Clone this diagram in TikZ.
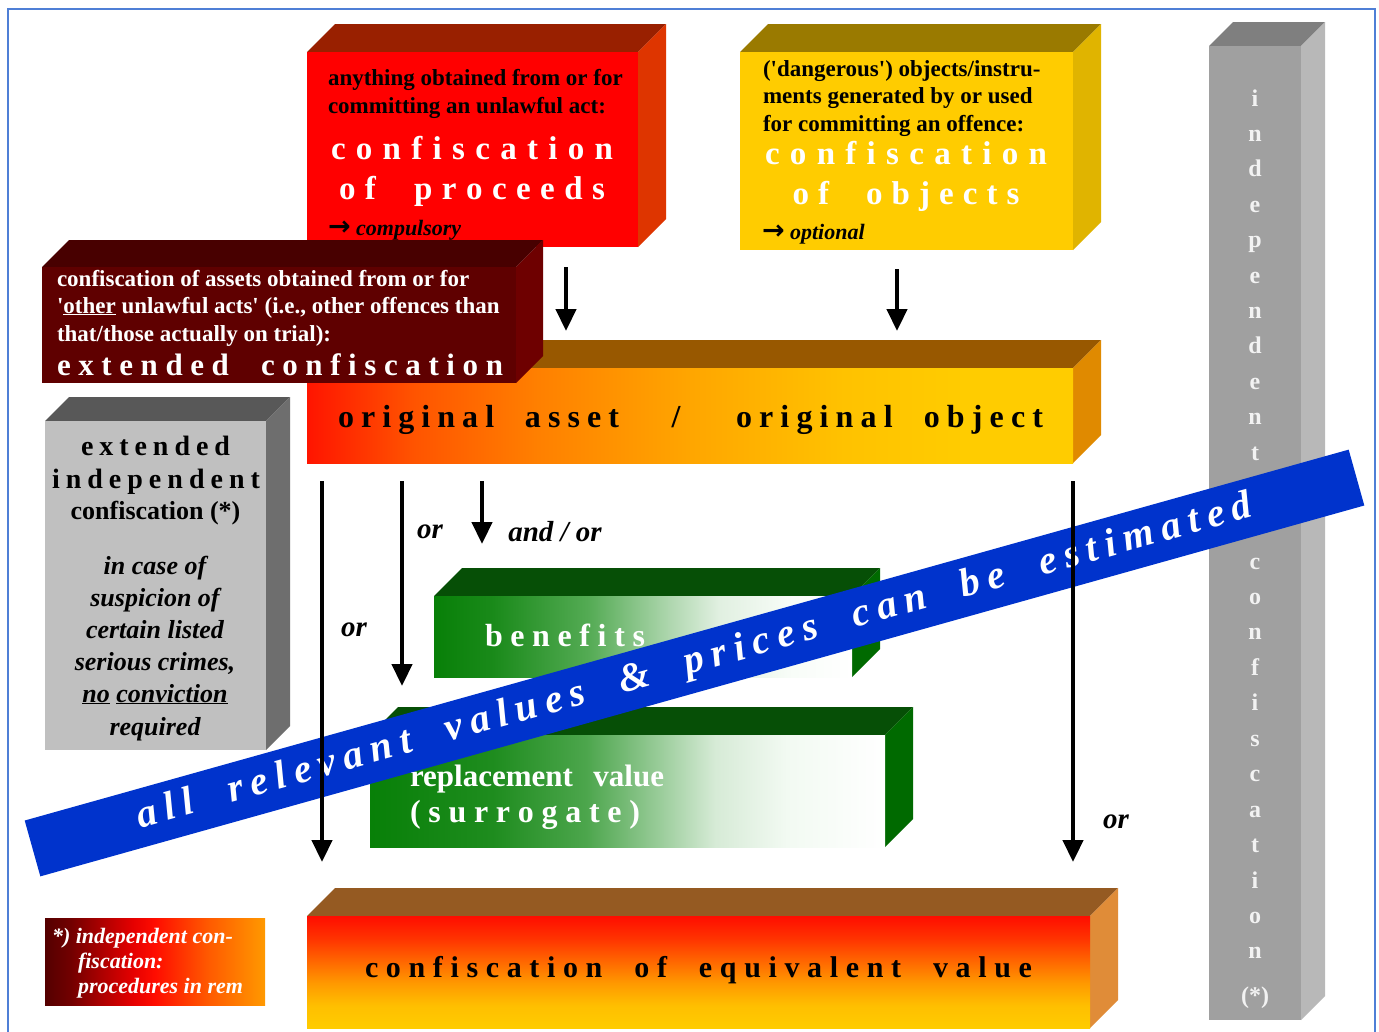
\documentclass[tikz,border=0pt]{standalone}
\usepackage{fontspec}
\setmainfont{Liberation Serif}
\newfontfamily\arrowfont{DejaVu Sans}
\usetikzlibrary{arrows.meta}

\ExplSyntaxOn
\bool_new:N \l__sp_first_bool
\NewDocumentCommand\spreadtext{mm}{
  \hbox_to_wd:nn {#1} {
    \bool_set_true:N \l__sp_first_bool
    \str_map_inline:nn {#2} {
      \bool_if:NF \l__sp_first_bool { \hfill }
      \bool_set_false:N \l__sp_first_bool
      \str_if_eq:nnTF {##1} {~} { \skip_horizontal:n { 0.3em plus 1fill } } { ##1 }
    }
  }
}
\ExplSyntaxOff

\definecolor{borderblue}{HTML}{4F7FD6}
\definecolor{procFront}{HTML}{FF0000}
\definecolor{procTop}{HTML}{992000}
\definecolor{procSide}{HTML}{DE3500}
\definecolor{objFront}{HTML}{FFCC00}
\definecolor{objTop}{HTML}{9A7A00}
\definecolor{objSide}{HTML}{E0B400}
\definecolor{extFront}{HTML}{5F0000}
\definecolor{extTop}{HTML}{480000}
\definecolor{extSide}{HTML}{6E0000}
\definecolor{assetTop}{HTML}{985800}
\definecolor{assetSide}{HTML}{E08A00}
\definecolor{greyFront}{HTML}{C0C0C0}
\definecolor{greyTop}{HTML}{585858}
\definecolor{greySide}{HTML}{6E6E6E}
\definecolor{greenTop}{HTML}{064F06}
\definecolor{greenSide}{HTML}{006A00}
\definecolor{eqTop}{HTML}{955A22}
\definecolor{eqSide}{HTML}{E08C38}
\definecolor{barFront}{HTML}{A0A0A0}
\definecolor{barTop}{HTML}{7F7F7F}
\definecolor{barSide}{HTML}{B8B8B8}
\definecolor{barText}{HTML}{F2F2F2}
\definecolor{bannerBlue}{HTML}{0033CC}

\pgfdeclarehorizontalshading{assetsh}{100bp}{rgb(0bp)=(1,0.08,0); rgb(25bp)=(1,0.08,0); rgb(32bp)=(1,0.33,0); rgb(40bp)=(1,0.5,0); rgb(50bp)=(1,0.65,0); rgb(60bp)=(1,0.76,0); rgb(68bp)=(1,0.8,0); rgb(75bp)=(1,0.8,0); rgb(100bp)=(1,0.8,0)}
\pgfdeclarehorizontalshading{benefsh}{100bp}{rgb(0bp)=(0.03,0.5,0.03); rgb(25bp)=(0.03,0.5,0.03); rgb(32bp)=(0.1,0.54,0.1); rgb(43.5bp)=(0.33,0.67,0.33); rgb(52.5bp)=(0.66,0.83,0.66); rgb(59bp)=(0.88,0.94,0.88); rgb(67.5bp)=(0.97,0.99,0.97); rgb(75bp)=(1,1,1); rgb(100bp)=(1,1,1)}
\pgfdeclarehorizontalshading{replsh}{100bp}{rgb(0bp)=(0.03,0.5,0.03); rgb(25bp)=(0.03,0.5,0.03); rgb(37bp)=(0.12,0.55,0.12); rgb(46bp)=(0.3,0.65,0.3); rgb(53.5bp)=(0.62,0.81,0.62); rgb(58.5bp)=(0.84,0.92,0.84); rgb(65.5bp)=(0.95,0.98,0.95); rgb(75bp)=(1,1,1); rgb(100bp)=(1,1,1)}
\pgfdeclareverticalshading{eqsh}{100bp}{rgb(0bp)=(1,0.8,0); rgb(25bp)=(1,0.8,0); rgb(35bp)=(1,0.75,0); rgb(45bp)=(1,0.6,0); rgb(55bp)=(1,0.4,0); rgb(65bp)=(1,0.2,0); rgb(75bp)=(1,0.05,0); rgb(100bp)=(1,0.05,0)}
\pgfdeclarehorizontalshading{footsh}{100bp}{rgb(0bp)=(0.33,0,0); rgb(25bp)=(0.33,0,0); rgb(31bp)=(0.45,0,0); rgb(37bp)=(0.65,0,0); rgb(45bp)=(0.9,0,0); rgb(50bp)=(1,0.05,0); rgb(62bp)=(1,0.35,0); rgb(75bp)=(1,0.6,0); rgb(100bp)=(1,0.6,0)}

\newcommand\slabfaces[7]{%
  \fill[#6] (#1,#2) -- (#1+#5,#2-#5) -- (#3+#5,#2-#5) -- (#3,#2) -- cycle;
  \fill[#7] (#3,#2) -- (#3+#5,#2-#5) -- (#3+#5,#4-#5) -- (#3,#4) -- cycle;}

\newcommand\bigarrow{{\arrowfont\upshape\bfseries\fontsize{27}{27}\selectfont →}}

\begin{document}
\begin{tikzpicture}[x=1pt,y=-1pt,
  face/.style={inner sep=0pt, outer sep=0pt, draw=none, anchor=north west},
  tx/.style={inner sep=0pt, outer sep=0pt},
  body/.style={tx, anchor=base west, font=\fontsize{23}{28}\selectfont\bfseries},
  bodyw/.style={body, text=white},
  head/.style={tx, anchor=base, text=white, font=\fontsize{33}{38}\selectfont\bfseries},
  headb/.style={tx, anchor=base west, font=\fontsize{32}{38}\selectfont\bfseries},
  note/.style={tx, anchor=base west, font=\fontsize{22}{26}\selectfont\bfseries\itshape},
  greyb/.style={tx, anchor=base, font=\fontsize{26}{32}\selectfont\bfseries},
  greyit/.style={tx, anchor=base, font=\fontsize{26}{32}\selectfont\bfseries\itshape},
  barl/.style={tx, anchor=base, text=barText, font=\fontsize{24}{28}\selectfont\bfseries},
  lbl/.style={tx, font=\fontsize{29}{34}\selectfont\bfseries\itshape},
  arr/.style={line width=4.5pt, -{Triangle[width=20pt,length=22pt]}}
]
\useasboundingbox (0,0) rectangle (1379,1031);
\fill[white] (0,0) rectangle (1379,1031);
\draw[borderblue, line width=2.5pt] (8,9) rectangle (1375,1050);

% right vertical bar
\slabfaces{1209}{46}{1301}{1020}{24}{barTop}{barSide}
\node[face, fill=barFront, minimum width=92pt, minimum height=974pt] (bar) at (1209,46) {};
\foreach \ch [count=\k from 0] in {i,n,d,e,p,e,n,d,e,n,t}
  \node[barl] (bi\k) at (1255,{106+35.4*\k}) {\ch};
\foreach \ch [count=\k from 0] in {c,o,n,f,i,s,c,a,t,i,o,n}
  \node[barl] (bc\k) at (1255,{569+35.45*\k}) {\ch};
\node[barl] (bstar) at (1255,1003) {(*)};

% original asset / object
\slabfaces{307}{368}{1073}{463}{28}{assetTop}{assetSide}
\node[face, shade, shading=assetsh, minimum width=766pt, minimum height=95pt] (asset) at (307,368) {};
\node[headb] (oa1) at (338,427) {\spreadtext{281pt}{original asset}};
\node[headb, anchor=base] (oa2) at (676,427) {/};
\node[headb] (oa3) at (736,427) {\spreadtext{307pt}{original object}};

% confiscation of proceeds
\slabfaces{307}{52}{638}{247}{28}{procTop}{procSide}
\node[face, fill=procFront, minimum width=331pt, minimum height=195pt] (proceeds) at (307,52) {};
\node[body] (rp1) at (328,85) {anything obtained from or for};
\node[body] (rp2) at (328,113) {committing an unlawful act:};
\node[head] (rp3) at (472,159) {\spreadtext{282pt}{confiscation}};
\node[head] (rp4) at (472,199) {\spreadtext{266pt}{of proceeds}};
\node[note] (rp5) at (328,235) {\bigarrow\ compulsory};

% confiscation of objects
\slabfaces{740}{52}{1073}{250}{28}{objTop}{objSide}
\node[face, fill=objFront, minimum width=333pt, minimum height=198pt] (objects) at (740,52) {};
\node[body] (yo1) at (763,76) {(\textquotesingle dangerous\textquotesingle) objects/instru-};
\node[body] (yo2) at (763,103) {ments generated by or used};
\node[body] (yo3) at (763,131) {for committing an offence:};
\node[head] (yo4) at (906,164) {\spreadtext{282pt}{confiscation}};
\node[head] (yo5) at (906,204) {\spreadtext{227pt}{of objects}};
\node[note] (yo6) at (762,239) {\bigarrow\ optional};

% extended confiscation
\slabfaces{42}{267}{516}{383}{27}{extTop}{extSide}
\node[face, fill=extFront, minimum width=474pt, minimum height=116pt] (extended) at (42,267) {};
\node[bodyw] (er1) at (57,286) {confiscation of assets obtained from or for};
\node[bodyw] (er2) at (57,313) {\textquotesingle\underline{other} unlawful acts\textquotesingle{} (i.e., other offences than};
\node[bodyw] (er3) at (57,341) {that/those actually on trial):};
\node[headb, text=white, font=\fontsize{31}{36}\selectfont\bfseries] (er4) at (57,375) {\spreadtext{446pt}{extended confiscation}};

% extended independent confiscation (grey)
\slabfaces{45}{421}{266}{750}{24}{greyTop}{greySide}
\node[face, fill=greyFront, minimum width=221pt, minimum height=329pt] (indep) at (45,421) {};
\node[greyb, font=\fontsize{28}{32}\selectfont\bfseries] (g1) at (155.5,455) {\spreadtext{149pt}{extended}};
\node[greyb, font=\fontsize{28}{32}\selectfont\bfseries] (g2) at (156,488) {\spreadtext{208pt}{independent}};
\node[greyb] (g3) at (155.5,519) {confiscation (*)};
\node[greyit] (g4) at (155,574) {in case of};
\node[greyit] (g5) at (155,606) {suspicion of};
\node[greyit] (g6) at (155,638) {certain listed};
\node[greyit] (g7) at (155,670) {serious crimes,};
\node[greyit] (g8) at (155,702) {\underline{no} \underline{conviction}};
\node[greyit] (g9) at (155,735) {required};

% benefits
\slabfaces{434}{596}{852}{677}{28}{greenTop}{greenSide}
\node[face, shade, shading=benefsh, minimum width=418pt, minimum height=81pt] (benefits) at (434,596) {};
\node[headb, text=white] (bn) at (485,646) {\spreadtext{160pt}{benefits}};

% replacement value
\slabfaces{370}{735}{885}{847}{28}{greenTop}{greenSide}
\node[face, shade, shading=replsh, minimum width=515pt, minimum height=112pt] (replacement) at (370,735) {};
\node[headb, text=white, font=\fontsize{31}{36}\selectfont\bfseries] (rv1) at (410,786) {\hbox to 254pt{replacement\hfill value}};
\node[headb, text=white] (rv2) at (410,822) {\spreadtext{230pt}{(surrogate)}};

% equivalent value
\slabfaces{307}{916}{1090}{1028}{28}{eqTop}{eqSide}
\node[face, shade, shading=eqsh, minimum width=783pt, minimum height=112pt] (equivalent) at (307,916) {};
\node[headb, font=\fontsize{30}{36}\selectfont\bfseries] (eq) at (365,977) {\spreadtext{667pt}{confiscation of equivalent value}};

% footnote
\node[face, shade, shading=footsh, minimum width=220pt, minimum height=87pt] (footnote) at (45,918) {};
\node[note, text=white] (f1) at (52,943) {*) independent con-};
\node[note, text=white] (f2) at (78,968) {fiscation:};
\node[note, text=white] (f3) at (78,993) {procedures in rem};

% banner
\node[fill=bannerBlue, rotate=15.65, minimum width=1375pt, minimum height=58pt, inner sep=0pt, text=white,
      font=\fontsize{40}{48}\selectfont\bfseries\itshape] (banner) at (694.5,663)
      {\spreadtext{1157pt}{all relevant values & prices can be estimated}};

% arrows
\coordinate (a1s) at (566,267); \coordinate (a1e) at (566,331);
\coordinate (a2s) at (897,269); \coordinate (a2e) at (897,331);
\coordinate (a3s) at (322,481); \coordinate (a3e) at (322,862);
\coordinate (a4s) at (402,481); \coordinate (a4e) at (402,686);
\coordinate (a5s) at (482,481); \coordinate (a5e) at (482,544);
\coordinate (a6s) at (1073,481); \coordinate (a6e) at (1073,862);
\draw[arr] (a1s) -- (a1e);
\draw[arr] (a2s) -- (a2e);
\draw[arr] (a3s) -- (a3e);
\draw[arr] (a4s) -- (a4e);
\draw[arr] (a5s) -- (a5e);
\draw[arr] (a6s) -- (a6e);
\node[lbl] (l1) at (430,532) {or};
\node[lbl] (l2) at (555,532) {and / or};
\node[lbl] (l3) at (354,630) {or};
\node[lbl] (l4) at (1116,822) {or};
\end{tikzpicture}
\end{document}
